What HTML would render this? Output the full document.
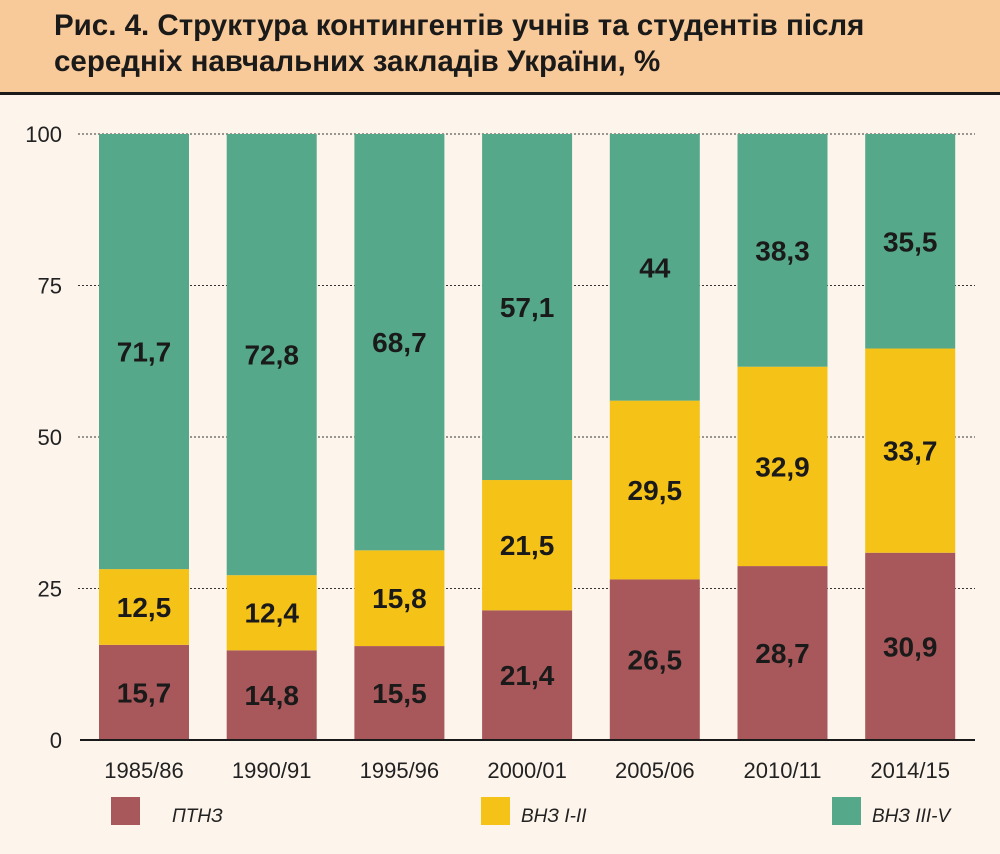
<!DOCTYPE html>
<html><head><meta charset="utf-8"><style>
body{margin:0;background:#fdf4ec;font-family:"Liberation Sans","DejaVu Sans",sans-serif;}
#wrap{position:relative;width:1000px;height:854px;overflow:hidden;background:#fdf4ec;}
#hdr{position:absolute;left:0;top:0;width:1000px;height:92px;background:#f8c999;border-bottom:3px solid #1a1a1a;}
#title{position:absolute;left:54px;top:8px;font-size:29.5px;font-weight:bold;line-height:36px;color:#1a1a1a;white-space:nowrap;}
</style></head><body>
<div id="wrap">
<div id="hdr"><div id="title">Рис. 4. Структура контингентів учнів та студентів після<br>середніх навчальних закладів України, %</div></div>
<svg id="svg" width="1000" height="854" style="position:absolute;left:0;top:0"></svg>
</div>
<script>
const categories=["1985/86","1990/91","1995/96","2000/01","2005/06","2010/11","2014/15"];
const ptnz=[15.7,14.8,15.5,21.4,26.5,28.7,30.9];
const vnz12=[12.5,12.4,15.8,21.5,29.5,32.9,33.7];
const vnz35=[71.7,72.8,68.7,57.1,44,38.3,35.5];
const yTicks=[0,25,50,75,100];
const seriesNames=["ПТНЗ","ВНЗ I-II","ВНЗ III-V"];
const colors=["#a8585a","#f5c218","#55a88a"];
const NS="http://www.w3.org/2000/svg";
const svg=document.getElementById('svg');
const y=v=>740-v*6.06;
const xc=i=>144+i*127.7;
const bw=90;
function mk(t,a){const e=document.createElementNS(NS,t);for(const k in a)e.setAttribute(k,a[k]);svg.appendChild(e);return e;}
yTicks.forEach(t=>{
 if(t>0){const l=mk('line',{x1:78,x2:975,y1:y(t),y2:y(t),stroke:'#333','stroke-width':1,'stroke-dasharray':'2,2'});
 
 }
 const tx=mk('text',{x:62,y:y(t)+8,'text-anchor':'end','font-size':22,fill:'#222'});tx.textContent=t;
 
 
});
categories.forEach((c,i)=>{
 const segs=[ptnz[i],vnz12[i]];
 let base=0;
 segs.forEach((v,s)=>{
  const r=mk('rect',{x:xc(i)-bw/2,y:y(base+v),width:bw,height:y(base)-y(base+v),fill:colors[s]});
  
  
  const t=mk('text',{x:xc(i),y:(y(base)+y(base+v))/2+10,'text-anchor':'middle','font-size':28,'font-weight':'bold',fill:'#1a1a1a'});
  t.textContent=String(v).replace('.',',');
  
  
  base+=v;
 });
 const r=mk('rect',{x:xc(i)-bw/2,y:y(100),width:bw,height:y(base)-y(100),fill:colors[2]});
 
 
 const t=mk('text',{x:xc(i),y:(y(base)+y(100))/2+10,'text-anchor':'middle','font-size':28,'font-weight':'bold',fill:'#1a1a1a'});
 t.textContent=String(vnz35[i]).replace('.',',');
 
 
 const xl=mk('text',{x:xc(i),y:778,'text-anchor':'middle','font-size':22,fill:'#222'});xl.textContent=c;
 
 
});
const ax=mk('line',{x1:80,x2:975,y1:740,y2:740,stroke:'#1a1a1a','stroke-width':2});


const lx=[111,481,832];
seriesNames.forEach((n,s)=>{
 const r=mk('rect',{x:lx[s],y:797,width:29,height:28,fill:colors[s]});
 
 
 const t=mk('text',{x:lx[s]+(s==0?61:40),y:822,'font-size':19,'font-style':'italic',fill:'#222'});t.textContent=n;
 
 
});
</script>
</body></html>
